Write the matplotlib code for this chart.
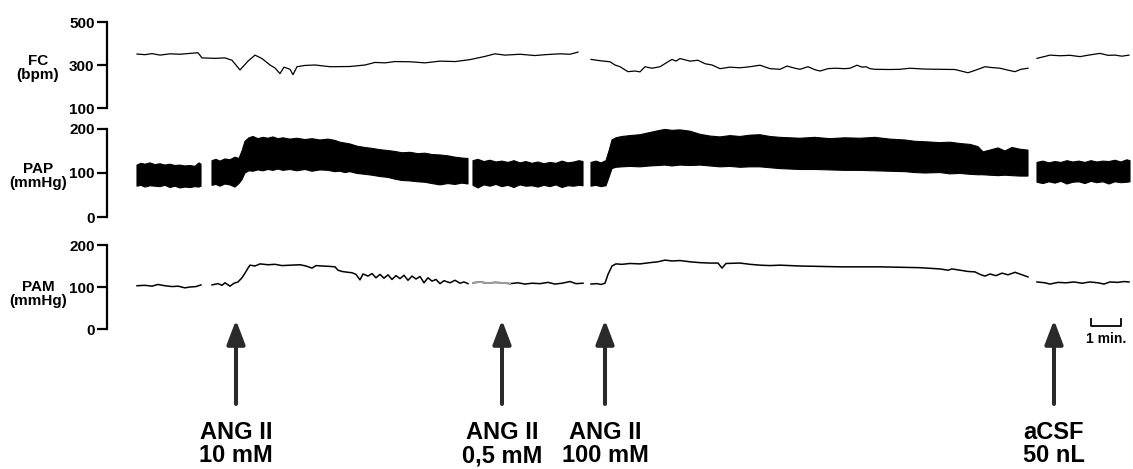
import matplotlib
matplotlib.use("Agg")
import matplotlib.pyplot as plt
import numpy as np

plt.rcParams["font.family"] = ["Liberation Sans", "DejaVu Sans"]
plt.rcParams["font.weight"] = "bold"

nan = np.nan

# time in seconds from start of recording; nan marks a break in the trace
fc_t = [0, 16, 30, 46, 66, 86, 106, 122, 130, 156, 176, 190, 206, 222, 236, 250, 266, 276, 286, 294,
        306, 312, 320, 336, 356, 386, 426, 456, 476, 496, 516, 546, 576, 606, 636, 666, 696, 716,
        736, 766, 796, 816, 846, 866, 882, nan,
        908, 926, 946, 956, 966, 982, 996, 1006, 1016, 1030, 1046, 1062, 1070, 1078, 1086, 1106,
        1122, 1136, 1150, 1166, 1186, 1206, 1226, 1246, 1266, 1286, 1300, 1316, 1326, 1342, 1356,
        1366, 1382, 1396, 1416, 1426, 1440, 1450, 1458, 1466, 1476, 1506, 1526, 1546, 1576, 1606,
        1636, 1662, 1676, 1696, 1710, 1726, 1742, 1756, 1768, 1782, nan,
        1800, 1816, 1826, 1846, 1866, 1886, 1906, 1926, 1942, 1956, 1970, 1984]
fc_bpm = [351, 348, 353, 346, 352, 350, 354, 357, 333, 331, 333, 322, 277, 318, 346, 330, 300, 286, 260, 290,
          280, 255, 292, 298, 300, 292, 293, 300, 312, 310, 316, 315, 310, 318, 316, 325, 340, 352,
          346, 350, 344, 348, 352, 350, 360, nan,
          326, 320, 315, 300, 292, 269, 272, 268, 292, 285, 292, 315, 326, 318, 330, 318,
          322, 306, 300, 283, 290, 287, 292, 299, 283, 280, 295, 285, 280, 292, 278,
          272, 283, 285, 283, 285, 299, 290, 292, 283, 280, 279, 280, 285, 281, 280,
          279, 264, 275, 292, 288, 285, 276, 269, 280, 285, nan,
          331, 340, 346, 343, 345, 339, 347, 354, 345, 346, 341, 346]

pap_t = [0, 8, 16, 26, 36, 46, 56, 66, 76, 86, 96, 106, 116, 124, 128, nan,
         150, 158, 166, 176, 186, 196, 204, 210, 216, 224, 232, 242, 252, 262, 272, 282, 292, 306,
         320, 336, 350, 366, 382, 396, 406, 416, 426, 440, 456, 470, 486, 502, 516, 530, 546, 562,
         576, 590, 606, 622, 636, 650, 662, nan,
         672, 682, 694, 706, 718, 730, 742, 754, 766, 778, 790, 802, 814, 826, 838, 850, 862, 874,
         884, 892, nan,
         908, 918, 928, 938, 944, 950, 958, 970, 986, 1006, 1026, 1042, 1056, 1070, 1086, 1106,
         1126, 1146, 1166, 1186, 1206, 1226, 1246, 1266, 1286, 1306, 1326, 1356, 1386, 1416, 1446,
         1476, 1506, 1536, 1556, 1576, 1606, 1626, 1646, 1666, 1682, 1692, 1706, 1722, 1736, 1750,
         1766, 1782, nan,
         1800, 1812, 1824, 1836, 1848, 1860, 1872, 1884, 1896, 1908, 1920, 1932, 1944, 1956, 1968,
         1980, 1986]
pap_sys = [118, 122, 120, 123, 119, 121, 118, 120, 117, 118, 116, 117, 115, 123, 120, nan,
           128, 131, 127, 132, 130, 136, 133, 150, 172, 180, 183, 178, 181, 179, 182, 178, 180, 177,
           179, 176, 178, 175, 177, 174, 170, 168, 166, 161, 158, 156, 153, 151, 149, 146, 147, 144,
           145, 142, 141, 139, 136, 134, 133, nan,
           128, 131, 126, 129, 125, 127, 124, 128, 123, 126, 122, 125, 121, 124, 122, 127, 123, 125,
           128, 126, nan,
           124, 127, 123, 128, 150, 175, 180, 183, 185, 187, 192, 196, 199, 197, 198, 195,
           188, 184, 182, 185, 183, 186, 187, 183, 181, 180, 179, 181, 178, 180, 179,
           181, 177, 175, 172, 171, 169, 170, 167, 165, 160, 148, 152, 157, 150, 158,
           154, 152, nan,
           124, 127, 123, 126, 124, 128, 125, 127, 124, 128, 125, 127, 126, 129, 125,
           130, 128]
pap_dia = [70, 72, 68, 71, 70, 69, 72, 67, 70, 66, 68, 67, 69, 68, 70, nan,
           72, 74, 70, 75, 73, 68, 76, 85, 100, 105, 104, 107, 105, 108, 106, 109, 106, 108,
           105, 108, 104, 107, 106, 103, 104, 101, 103, 99, 97, 95, 92, 90, 86, 83, 82, 80,
           79, 76, 73, 76, 74, 77, 75, nan,
           72, 66, 73, 70, 74, 69, 72, 67, 73, 70, 71, 68, 72, 69, 73, 67, 71, 70,
           72, 71, nan,
           70, 72, 69, 71, 90, 110, 113, 114, 115, 114, 116, 117, 118, 116, 118, 117,
           118, 116, 114, 115, 113, 114, 114, 112, 110, 109, 108, 108, 107, 106, 106,
           105, 104, 103, 101, 100, 101, 98, 99, 97, 96, 96, 95, 94, 95, 94,
           93, 93, nan,
           79, 76, 80, 77, 81, 75, 79, 80, 76, 81, 78, 80, 75, 80, 78,
           79, 80]

pam_t = [0, 16, 30, 42, 56, 70, 82, 96, 106, 118, 128, nan,
         150, 162, 170, 176, 186, 194, 202, 210, 216, 222, 226, 236, 246, 262, 276, 290, 306, 326,
         338, 350, 358, 370, 386, 396, 402, 410, 422, 430, 438, 446, 452, 462, 470, 478, 486, 494,
         502, 510, 518, 526, 534, 542, 550, 558, 566, 574, 582, 590, 598, 606, 614, 626, 636, 646,
         654, 662, nan,
         672, 686, 702, 716, 730, 746, 762, 776, 790, 806, 822, 836, 850, 866, 878, 892, nan,
         908, 920, 928, 936, 942, 950, 958, 970, 986, 1006, 1026, 1042, 1056, 1070, 1086, 1106,
         1126, 1146, 1162, 1170, 1178, 1206, 1226, 1246, 1266, 1286, 1326, 1366, 1406, 1446, 1486,
         1526, 1566, 1606, 1622, 1630, 1646, 1662, 1676, 1686, 1696, 1706, 1718, 1730, 1742, 1756,
         1770, 1782, nan,
         1800, 1816, 1826, 1842, 1858, 1874, 1890, 1906, 1922, 1934, 1946, 1962, 1974, 1984]
pam_mmhg = [103, 104, 102, 106, 103, 101, 102, 98, 100, 101, 105, nan,
            105, 108, 104, 110, 102, 109, 112, 122, 133, 145, 152, 150, 155, 153, 154, 151, 152, 153,
            150, 145, 151, 150, 149, 148, 140, 137, 135, 134, 130, 117, 131, 126, 132, 122, 130, 121,
            129, 118, 127, 120, 128, 116, 126, 119, 125, 110, 122, 114, 118, 108, 115, 110, 116, 109,
            112, 108, nan,
            110, 112, 109, 111, 110, 108, 110, 107, 109, 108, 111, 107, 109, 113, 108, 109, nan,
            107, 108, 106, 109, 130, 150, 155, 154, 156, 155, 158, 160, 164, 162, 163, 160,
            158, 157, 157, 145, 156, 157, 154, 152, 151, 152, 150, 149, 148, 148, 148,
            147, 146, 143, 140, 143, 140, 137, 136, 130, 126, 131, 127, 133, 129, 135,
            129, 124, nan,
            112, 110, 107, 111, 110, 112, 109, 112, 110, 107, 112, 111, 113, 112]

# faint stretch of the MAP trace at the start of the third block
pam_faint = (672, 746)

events_t = [198, 730, 936, 1834]
events_label = ["ANG II\n10 mM", "ANG II\n0,5 mM", "ANG II\n100 mM", "aCSF\n50 nL"]

W, H = 1133, 469
fig = plt.figure(figsize=(W / 100, H / 100), dpi=100)

left = 107 / W
width = 1 - left
ax_fc = fig.add_axes([left, 1 - 108 / H, width, 86 / H])
ax_pap = fig.add_axes([left, 1 - 217 / H, width, 88 / H])
ax_pam = fig.add_axes([left, 1 - 329 / H, width, 84 / H])

for ax, lim, ticks in [(ax_fc, (100, 500), [100, 300, 500]),
                       (ax_pap, (0, 200), [0, 100, 200]),
                       (ax_pam, (0, 200), [0, 100, 200])]:
    ax.set_xlim(-60, 1992)
    ax.set_ylim(*lim)
    ax.set_yticks(ticks)
    ax.set_xticks([])
    for side in ["top", "right", "bottom"]:
        ax.spines[side].set_visible(False)
    ax.spines["left"].set_linewidth(1.6)
    ax.tick_params(axis="y", length=7.5, width=1.6, pad=1.5, labelsize=11)
    for lbl in ax.get_yticklabels():
        lbl.set_fontweight("bold")
    ax.patch.set_visible(False)

ax_fc.plot(fc_t, fc_bpm, color="black", lw=0.9, clip_on=False)

pt = np.array(pap_t, dtype=float)
ax_pap.fill_between(pt, pap_dia, pap_sys, facecolor="black", edgecolor="black",
                    lw=0.8, clip_on=False)

mt = np.array(pam_t, dtype=float)
ax_pam.plot(mt, pam_mmhg, color="black", lw=1.1, clip_on=False)
faint = (mt >= pam_faint[0]) & (mt <= pam_faint[1])
ax_pam.plot(mt[faint], np.array(pam_mmhg)[faint], color="#a0a0a0", lw=1.3)

# channel names
for ypx, name in [(68, "FC\n(bpm)"), (176, "PAP\n(mmHg)"), (294, "PAM\n(mmHg)")]:
    fig.text(38 / W, 1 - ypx / H, name, ha="center", va="center", fontsize=11,
             fontweight="bold", linespacing=1.05)

# injection arrows under the traces
trans = ax_pam.get_xaxis_transform()
for t, lab in zip(events_t, events_label):
    ax_pam.annotate("", xy=(t, (329 - 320) / 84), xytext=(t, (329 - 404) / 84),
                    xycoords=trans, textcoords=trans, annotation_clip=False,
                    arrowprops=dict(arrowstyle="-|>,head_length=1.0,head_width=0.38",
                                    mutation_scale=14.5, lw=2.9, color="#2a2a2a",
                                    shrinkA=0, shrinkB=0))
    ax_pam.text(t, (329 - 421) / 84, lab, transform=trans, ha="center", va="top",
                fontsize=17, fontweight="bold", linespacing=1.0, clip_on=False)

# 1 min scale bar
y0, y1 = (329 - 326) / 84, (329 - 319) / 84
ax_pam.plot([1908, 1908, 1968, 1968], [y1, y0, y0, y1], color="black", lw=1.3,
            transform=trans, clip_on=False)
ax_pam.text(1938, (329 - 339) / 84, "1 min.", transform=trans, ha="center", va="center",
            fontsize=10, fontweight="bold", clip_on=False)

fig.savefig("out.png", dpi=100)
